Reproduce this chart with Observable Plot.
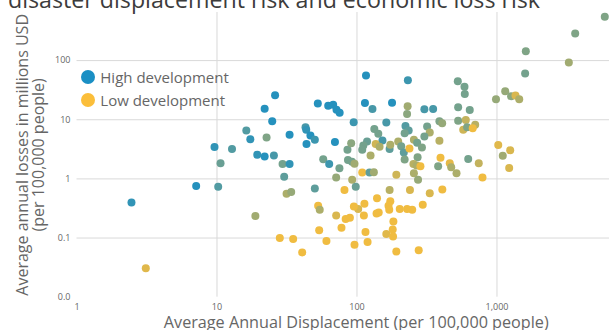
<!DOCTYPE html>
<html>
<head>
<meta charset="utf-8">
<script src="https://cdn.jsdelivr.net/npm/d3@7"></script>
<script src="https://cdn.jsdelivr.net/npm/@observablehq/plot@0.6"></script>
<style>
  html, body { margin: 0; padding: 0; background: #fff; overflow: hidden; }
  #wrap { position: relative; width: 609px; height: 330px; overflow: hidden; font-family: "Open Sans", sans-serif; }
  #wrap svg { position: absolute; left: 0; top: 0; }
  #title { position: absolute; left: 8px; top: -12px; margin: 0; font-size: 23.2px; line-height: 23px; font-weight: 400; color: #3c3c3c; white-space: nowrap; }
  #legend { position: absolute; left: 81.3px; top: 65.5px; font-size: 15px; color: #666; }
  .item { display: flex; align-items: center; height: 23px; white-space: nowrap; }
  .swatch { width: 14px; height: 14px; border-radius: 50%; margin-right: 5px; flex: none; }
</style>
</head>
<body>
<div id="wrap"></div>
<script>
// Average annual displacement per 100,000 people (x)
const displacement = [
  2.45, 3.1, 7.1, 9.6, 10.2, 10.6, 12.8, 16.2, 17.3, 21.9,
  26, 24.8, 22.6, 18.8, 19.4, 21.9, 25.5, 29.4, 33, 30.2,
  31.4, 33.9, 33, 42.9, 43.4, 46.5, 50, 43.6, 52.5, 62.3,
  67.6, 71.4, 75.2, 94.7, 69.6, 57.4, 63.3, 50, 74.9, 71,
  85.5, 90.9, 86.2, 92.1, 96, 92.4, 81.4, 98, 116, 114,
  129, 178, 162, 231, 230, 228, 303, 350, 525, 586,
  589, 984, 1145, 1262, 1356, 1442, 528, 639, 222, 234,
  219, 317, 331, 303, 388, 406, 528, 599, 574, 612,
  699, 671, 133, 142, 152, 118, 111, 109, 136, 145,
  171, 173, 197, 207, 216, 237, 255, 269, 291, 388,
  125, 219, 271, 395, 460, 471, 514, 623, 741, 788,
  1021, 1243, 1100, 1222, 5890, 3620, 1607, 3260, 1589, 109,
  123, 132, 191, 253, 267, 284, 380, 255, 273, 171,
  239, 331, 407, 295, 248, 228, 202, 173, 168, 170,
  139, 138, 143, 113, 112, 115, 119, 182, 180, 162,
  181, 191, 276, 102, 95, 83, 89, 71, 77.5, 52.8,
  54.2, 53.7, 60.5, 96, 28.1, 35, 40.6
];

// Average annual losses in millions USD per 100,000 people (y)
const losses = [
  0.40, 0.031, 0.76, 3.45, 0.74, 1.83, 3.2, 6.6, 4.7, 15.3,
  25.9, 9.4, 5.0, 0.235, 2.56, 2.38, 2.48, 1.79, 1.79, 1.09,
  0.56, 0.6, 5.55, 7.5, 6.75, 5.4, 4.6, 3.9, 18.8, 17.3,
  17.9, 14.8, 13.1, 9.1, 4.2, 2.14, 1.78, 0.69, 1.51, 1.06,
  3.1, 4.0, 2.08, 1.94, 1.8, 0.97, 0.65, 0.74, 56, 19.2,
  15.2, 19.4, 9.0, 46.6, 16.9, 12.5, 15.1, 15.2, 44.8, 36.2,
  27.2, 22.1, 30.4, 25, 25.7, 22.2, 16.3, 14.6, 7.8, 6.6,
  5.9, 7.7, 6.1, 5.2, 9.4, 8.7, 9.6, 9.9, 6.8, 7.5,
  8.2, 7.2, 7.0, 5.8, 4.45, 4.3, 3.66, 3.1, 3.9, 3.5,
  3.2, 3.76, 4.3, 3.56, 2.8, 3.26, 4.6, 4.1, 3.4, 4.4,
  2.48, 2.12, 2.32, 2.27, 1.84, 1.57, 1.24, 2.16, 1.84, 1.06,
  3.73, 3.05, 2.45, 1.53, 551, 287, 144, 93, 60.5, 1.28,
  1.28, 1.29, 1.18, 1.78, 1.68, 1.63, 1.63, 1.24, 0.97, 0.65,
  0.65, 0.57, 0.66, 0.365, 0.30, 0.31, 0.31, 0.42, 0.35, 0.30,
  0.47, 0.26, 0.27, 0.38, 0.24, 0.127, 0.086, 0.19, 0.14, 0.117,
  0.106, 0.059, 0.062, 0.31, 0.34, 0.21, 0.22, 0.24, 0.15, 0.35,
  0.30, 0.135, 0.089, 0.077, 0.10, 0.096, 0.057
];

// Development level of each country, 0 = low, 1 = high
const development = [
  0.9, 0.12, 0.95, 0.9, 0.75, 0.65, 0.75, 0.75, 0.9, 0.95,
  0.95, 0.95, 0.55, 0.4, 0.9, 0.95, 0.8, 0.6, 0.9, 0.7,
  0.35, 0.45, 0.95, 0.8, 0.9, 0.95, 0.85, 0.95, 0.95, 0.95,
  0.95, 0.95, 0.95, 0.85, 0.95, 0.6, 0.85, 0.7, 0.6, 0.45,
  0.6, 0.5, 0.6, 0.6, 0.4, 0.35, 0.05, 0.65, 0.95, 0.95,
  0.8, 0.95, 0.8, 0.85, 0.4, 0.5, 0.8, 0.8, 0.6, 0.6,
  0.6, 0.45, 0.45, 0.5, 0.15, 0.35, 0.6, 0.6, 0.75, 0.7,
  0.6, 0.6, 0.35, 0.6, 0.55, 0.45, 0.55, 0.25, 0.2, 0.55,
  0.3, 0.05, 0.6, 0.6, 0.8, 0.65, 0.6, 0.6, 0.2, 0.35,
  0.7, 0.35, 0.35, 0.6, 0.7, 0.05, 0.35, 0.6, 0.55, 0.3,
  0.35, 0.55, 0.55, 0.05, 0.1, 0.35, 0.35, 0.6, 0.25, 0.05,
  0.12, 0.15, 0.4, 0.15, 0.55, 0.55, 0.55, 0.4, 0.6, 0.05,
  0.7, 0.4, 0.2, 0.3, 0.35, 0.05, 0.55, 0.35, 0.45, 0.3,
  0.15, 0.15, 0.05, 0.05, 0.05, 0.05, 0.05, 0.05, 0.05, 0.05,
  0.05, 0.05, 0.05, 0.05, 0.05, 0.05, 0.05, 0.05, 0.05, 0.12,
  0.05, 0.05, 0.05, 0.15, 0.05, 0.05, 0.05, 0.15, 0.05, 0.05,
  0.35, 0.05, 0.05, 0.05, 0.05, 0.05, 0.05
];

const xTicks = [1, 10, 100, 1000];
const xTickLabels = ["1", "10", "100", "1,000"];
const yTicks = [0.01, 0.1, 1, 10, 100];
const yTickLabels = ["0.0", "0.1", "1", "10", "100"];

const legendLabels = ["High development", "Low development"];
const legendLevels = [1, 0];

const titleText = "disaster displacement risk and economic loss risk";
const xTitle = "Average Annual Displacement (per 100,000 people)";
const yTitle = "Average annual losses in millions USD\n(per 100,000 people)";

const lowColor = "#fbbe3a";
const highColor = "#1a8fc4";

const points = displacement.map((x, i) => ({x, y: losses[i], level: development[i]}));
const xLabelOf = new Map(xTicks.map((t, i) => [t, xTickLabels[i]]));
const yLabelOf = new Map(yTicks.map((t, i) => [t, yTickLabels[i]]));

const chart = Plot.plot({
  width: 609,
  height: 330,
  marginLeft: 76.5,
  marginRight: 0,
  marginTop: 12,
  marginBottom: 33.3,
  style: {fontFamily: '"Open Sans", sans-serif', fontSize: "9px", color: "#666", background: "transparent"},
  x: {type: "log", domain: [1, 6365], label: null},
  y: {type: "log", domain: [0.01, 650], label: null},
  color: {type: "linear", domain: [0, 1], range: [lowColor, highColor], interpolate: "rgb"},
  marks: [
    Plot.gridX(xTicks.slice(1), {stroke: "#d9d9d9", strokeOpacity: 1}),
    Plot.gridY(yTicks.slice(1), {stroke: "#d9d9d9", strokeOpacity: 1}),
    Plot.axisX({ticks: xTicks, tickSize: 0, tickPadding: 6.5, tickFormat: d => xLabelOf.get(d), label: null}),
    Plot.axisY({ticks: yTicks, tickSize: 0, tickPadding: 6.5, tickFormat: d => yLabelOf.get(d), label: null}),
    Plot.dot(points, {x: "x", y: "y", fill: "level", r: 4}),
    Plot.text([xTitle], {text: d => d, frameAnchor: "bottom", textAnchor: "middle", lineAnchor: "middle", dx: 13, dy: 25.5, fontSize: 16.2, fill: "#666"}),
    Plot.text([yTitle], {text: d => d, frameAnchor: "left", textAnchor: "middle", lineAnchor: "middle", rotate: -90, dx: -45.9, lineHeight: 0.97, fontSize: 16, fill: "#666"})
  ]
});

const wrap = document.getElementById("wrap");
wrap.appendChild(chart);

const colorScale = chart.scale("color");
const legend = document.createElement("div");
legend.id = "legend";
legendLabels.forEach((label, i) => {
  const item = document.createElement("div");
  item.className = "item";
  const sw = document.createElement("span");
  sw.className = "swatch";
  sw.style.background = colorScale.apply(legendLevels[i]);
  const tx = document.createElement("span");
  tx.textContent = label;
  item.appendChild(sw);
  item.appendChild(tx);
  legend.appendChild(item);
});
wrap.appendChild(legend);

const title = document.createElement("h2");
title.id = "title";
title.textContent = titleText;
wrap.appendChild(title);
</script>
</body>
</html>
